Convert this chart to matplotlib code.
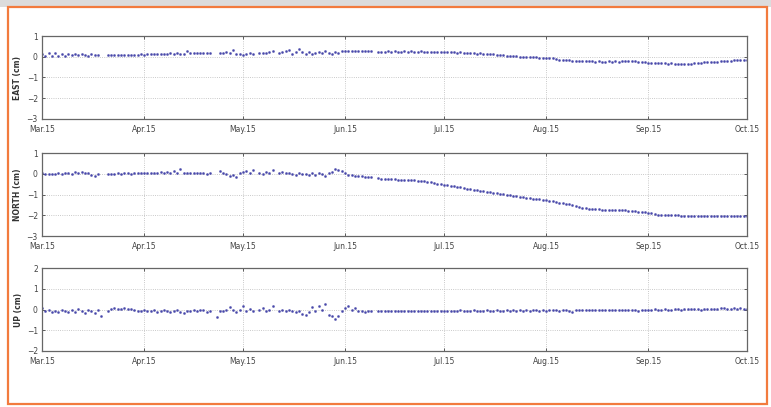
#!/usr/bin/env python3
"""GNSS station daily displacement: EAST / NORTH / UP, Mar-Oct 2015."""
import matplotlib
matplotlib.use("Agg")
import matplotlib.pyplot as plt
import matplotlib.dates as mdates
from matplotlib.patches import Rectangle
import numpy as np
import pandas as pd

matplotlib.rcParams.update({
    "font.family": "DejaVu Sans",
    "font.size": 5.5,
})

nan = float("nan")

START_DATE = "2015-03-01"
END_DATE = "2015-10-01"

# daily values in cm, one row per week, starting 2015-03-01
EAST = [
    # Mar
    0.15, 0.05, 0.18, 0.06, 0.16, 0.04, 0.14,
    0.05, 0.15, 0.08, 0.12, 0.10, 0.14, 0.09,
    0.06, 0.12, 0.08, 0.10, nan, nan, 0.08,
    0.07, 0.09, 0.08, 0.08, 0.09, 0.10, 0.09,
    0.10, 0.10, 0.11,
    # Apr
    0.10, 0.11, 0.12, 0.11, 0.13, 0.12, 0.14,
    0.13, 0.18, 0.14, 0.20, 0.15, 0.12, 0.28,
    0.17, 0.18, 0.18, 0.17, 0.18, 0.18, 0.17,
    nan, nan, 0.18, 0.20, 0.22, 0.18, 0.33,
    0.12, 0.15,
    # May
    0.10, 0.14, 0.16, 0.15, nan, 0.18, 0.20,
    0.19, 0.24, 0.30, nan, 0.20, 0.22, 0.28,
    0.32, 0.15, 0.25, 0.35, 0.22, 0.15, 0.22,
    0.12, 0.20, 0.25, 0.18, 0.28, 0.20, 0.15,
    0.24, 0.17, 0.28,
    # Jun
    0.30, 0.28, 0.26, 0.26, 0.27, 0.26, 0.28,
    0.30, 0.27, nan, 0.24, 0.25, 0.24, 0.26,
    0.25, 0.26, 0.24, 0.25, 0.26, 0.25, 0.27,
    0.24, 0.25, 0.26, 0.25, 0.23, 0.25, 0.24,
    0.23, 0.24,
    # Jul
    0.22, 0.23, 0.21, 0.22, 0.20, 0.21, 0.19,
    0.18, 0.19, 0.17, 0.15, 0.16, 0.14, 0.12,
    0.13, 0.11, 0.10, 0.09, 0.07, 0.06, 0.04,
    0.03, 0.02, 0.01, 0.00, -0.01, -0.02, -0.03,
    -0.03, -0.04, -0.05,
    # Aug
    -0.06, -0.06, -0.08, -0.11, -0.14, -0.16, -0.17,
    -0.18, -0.19, -0.19, -0.20, -0.21, -0.21, -0.22,
    -0.22, -0.23, -0.22, -0.23, -0.23, -0.22, -0.23,
    -0.22, -0.23, -0.22, -0.22, -0.21, -0.22, -0.22,
    -0.23, -0.24, -0.26,
    # Sep
    -0.28, -0.30, -0.31, -0.28, -0.30, -0.32, -0.33,
    -0.32, -0.34, -0.35, -0.35, -0.36, -0.35, -0.33,
    -0.31, -0.30, -0.29, -0.27, -0.26, -0.25, -0.24,
    -0.23, -0.22, -0.21, -0.20, -0.19, -0.18, -0.17,
    -0.16, -0.15,
    # Oct 1
    -0.14,
]

NORTH = [
    # Mar
    0.02, -0.02, 0.01, -0.01, 0.00, 0.03, -0.02,
    0.02, 0.05, -0.01, 0.08, 0.02, 0.10, 0.05,
    0.06, -0.04, -0.10, -0.02, nan, nan, 0.00,
    0.01, -0.01, 0.02, 0.00, 0.02, 0.03, 0.01,
    0.03, 0.02, 0.04,
    # Apr
    0.03, 0.05, 0.02, 0.06, 0.04, 0.07, 0.03,
    0.10, 0.05, 0.12, 0.06, 0.25, 0.06, 0.04,
    0.05, 0.03, 0.05, 0.04, 0.02, -0.03, 0.04,
    nan, nan, 0.12, 0.02, 0.00, -0.12, -0.05,
    -0.18, 0.02,
    # May
    0.10, 0.15, 0.05, 0.18, nan, 0.05, 0.00,
    0.08, 0.02, 0.20, nan, 0.05, 0.08, 0.03,
    0.06, -0.02, -0.08, 0.04, -0.03, 0.00, -0.06,
    0.02, -0.05, 0.05, -0.02, -0.12, 0.03, 0.10,
    0.25, 0.18, 0.12,
    # Jun
    0.05, -0.04, -0.08, -0.10, -0.12, -0.13, -0.15,
    -0.16, -0.18, nan, -0.22, -0.23, -0.24, -0.25,
    -0.26, -0.27, -0.28, -0.28, -0.29, -0.30, -0.31,
    -0.32, -0.34, -0.35, -0.37, -0.39, -0.41, -0.44,
    -0.47, -0.50,
    # Jul
    -0.53, -0.55, -0.58, -0.61, -0.63, -0.66, -0.69,
    -0.72, -0.74, -0.77, -0.79, -0.82, -0.84, -0.87,
    -0.89, -0.91, -0.94, -0.96, -0.99, -1.01, -1.04,
    -1.06, -1.09, -1.11, -1.13, -1.16, -1.18, -1.20,
    -1.22, -1.24, -1.26,
    # Aug
    -1.28, -1.30, -1.33, -1.36, -1.39, -1.42, -1.45,
    -1.48, -1.51, -1.55, -1.59, -1.63, -1.66, -1.68,
    -1.70, -1.71, -1.72, -1.73, -1.73, -1.74, -1.74,
    -1.75, -1.76, -1.76, -1.77, -1.78, -1.79, -1.80,
    -1.82, -1.84, -1.86,
    # Sep
    -1.88, -1.91, -1.94, -1.97, -1.98, -1.97, -1.98,
    -1.99, -2.00, -2.01, -2.02, -2.03, -2.04, -2.04,
    -2.05, -2.05, -2.05, -2.06, -2.05, -2.05, -2.06,
    -2.05, -2.05, -2.04, -2.05, -2.04, -2.04, -2.03,
    -2.03, -2.02,
    # Oct 1
    -2.02,
]

UP = [
    # Mar
    0.05, -0.05, 0.00, -0.12, -0.05, -0.10, 0.00,
    -0.08, -0.12, -0.03, -0.10, 0.02, -0.08, -0.15,
    0.00, -0.05, -0.18, -0.02, -0.30, nan, -0.05,
    0.02, 0.05, 0.03, 0.04, 0.05, 0.04, 0.03,
    -0.02, -0.05, -0.06,
    # Apr
    -0.03, -0.08, -0.05, -0.02, -0.10, -0.06, -0.03,
    -0.08, -0.12, -0.05, -0.02, -0.10, -0.18, -0.05,
    -0.08, -0.03, -0.06, 0.00, -0.04, -0.10, -0.05,
    nan, -0.38, -0.05, -0.08, -0.03, 0.12, -0.02,
    -0.10, 0.00,
    # May
    0.15, -0.05, 0.02, -0.08, nan, -0.02, 0.05,
    -0.05, 0.00, 0.18, nan, -0.05, 0.00, -0.08,
    -0.02, -0.05, -0.12, -0.08, -0.20, -0.28, -0.10,
    0.12, -0.05, 0.18, -0.02, 0.28, -0.25, -0.30,
    -0.45, -0.30, -0.05,
    # Jun
    0.05, 0.15, -0.02, 0.05, -0.08, -0.05, -0.12,
    -0.05, -0.08, nan, -0.08, -0.06, -0.09, -0.07,
    -0.08, -0.05, -0.07, -0.09, -0.06, -0.08, -0.07,
    -0.05, -0.08, -0.06, -0.07, -0.09, -0.06, -0.07,
    -0.05, -0.08,
    # Jul
    -0.06, -0.07, -0.05, -0.08, -0.06, -0.04, -0.07,
    -0.05, -0.06, -0.04, -0.07, -0.05, -0.06, -0.04,
    -0.05, -0.07, -0.04, -0.06, -0.05, -0.03, -0.06,
    -0.04, -0.05, -0.03, -0.06, -0.04, -0.05, -0.03,
    -0.04, -0.06, -0.03,
    # Aug
    -0.05, -0.02, -0.04, -0.03, -0.05, -0.02, -0.04,
    -0.06, -0.10, -0.04, -0.01, -0.03, -0.02, -0.04,
    -0.03, -0.02, -0.03, -0.01, -0.03, -0.02, -0.01,
    0.00, -0.02, -0.01, -0.03, -0.01, 0.00, -0.02,
    -0.05, -0.01, -0.02,
    # Sep
    0.00, -0.01, 0.01, -0.01, 0.00, 0.01, -0.01,
    0.00, 0.02, 0.01, 0.00, 0.02, 0.01, 0.03,
    0.01, 0.02, 0.00, 0.02, 0.04, 0.02, 0.01,
    0.03, 0.08, 0.05, 0.03, 0.04, 0.06, 0.02,
    0.05, 0.03,
    # Oct 1
    0.04,
]

PANELS = [
    ("EAST (cm)", EAST, (-3, 1), [1, 0, -1, -2, -3]),
    ("NORTH (cm)", NORTH, (-3, 1), [1, 0, -1, -2, -3]),
    ("UP (cm)", UP, (-2, 2), [2, 1, 0, -1, -2]),
]

W, H = 771, 407
DOT = "#4848aa"
FRAME = "#f27b3e"


def main() -> None:
    fig = plt.figure(figsize=(W / 100, H / 100), dpi=100)
    fig.patch.set_facecolor("white")

    # grey page strip at the top and the orange frame
    fig.patches.append(Rectangle((0, 1 - 7 / H), 1, 7 / H, transform=fig.transFigure,
                                 facecolor="#dcdcdc", edgecolor="none", zorder=0))
    fig.patches.append(Rectangle((8 / W, 3 / H), (767 - 8) / W, (400 - 3) / H,
                                 transform=fig.transFigure, facecolor="none",
                                 edgecolor=FRAME, lw=1.6, zorder=1))

    tops = [36, 153, 268]
    left, right = 42, 747
    height_px = 83

    for (label, values, ylim, yticks), top in zip(PANELS, tops):
        ax = fig.add_axes([left / W, 1 - (top + height_px) / H,
                           (right - left) / W, height_px / H])
        dates = pd.date_range(START_DATE, periods=len(values), freq="D")
        ax.plot(dates, np.array(values), ls="none", marker=".", ms=3.0,
                mec=DOT, mfc=DOT, mew=0.3)

        ax.set_xlim(pd.Timestamp(START_DATE), pd.Timestamp(END_DATE))
        ax.set_ylim(*ylim)
        ax.set_yticks(yticks)
        ax.xaxis.set_major_locator(mdates.MonthLocator())
        ax.xaxis.set_major_formatter(mdates.DateFormatter("%b.%y"))

        ax.grid(True, ls=":", lw=0.6, color="#b8b8b8")
        ax.tick_params(direction="in", length=2.5, width=0.6, top=True, right=True,
                       labelsize=5.5, colors="#444444")
        ax.tick_params(axis="x", pad=4.5)
        ax.tick_params(axis="y", pad=3)
        for sp in ax.spines.values():
            sp.set_color("#666666")
            sp.set_linewidth(0.9)
        ax.set_ylabel(label, fontsize=5.5, fontweight="bold", color="#333333",
                      labelpad=3)

    fig.savefig("out.png", dpi=100)


if __name__ == "__main__":
    main()
